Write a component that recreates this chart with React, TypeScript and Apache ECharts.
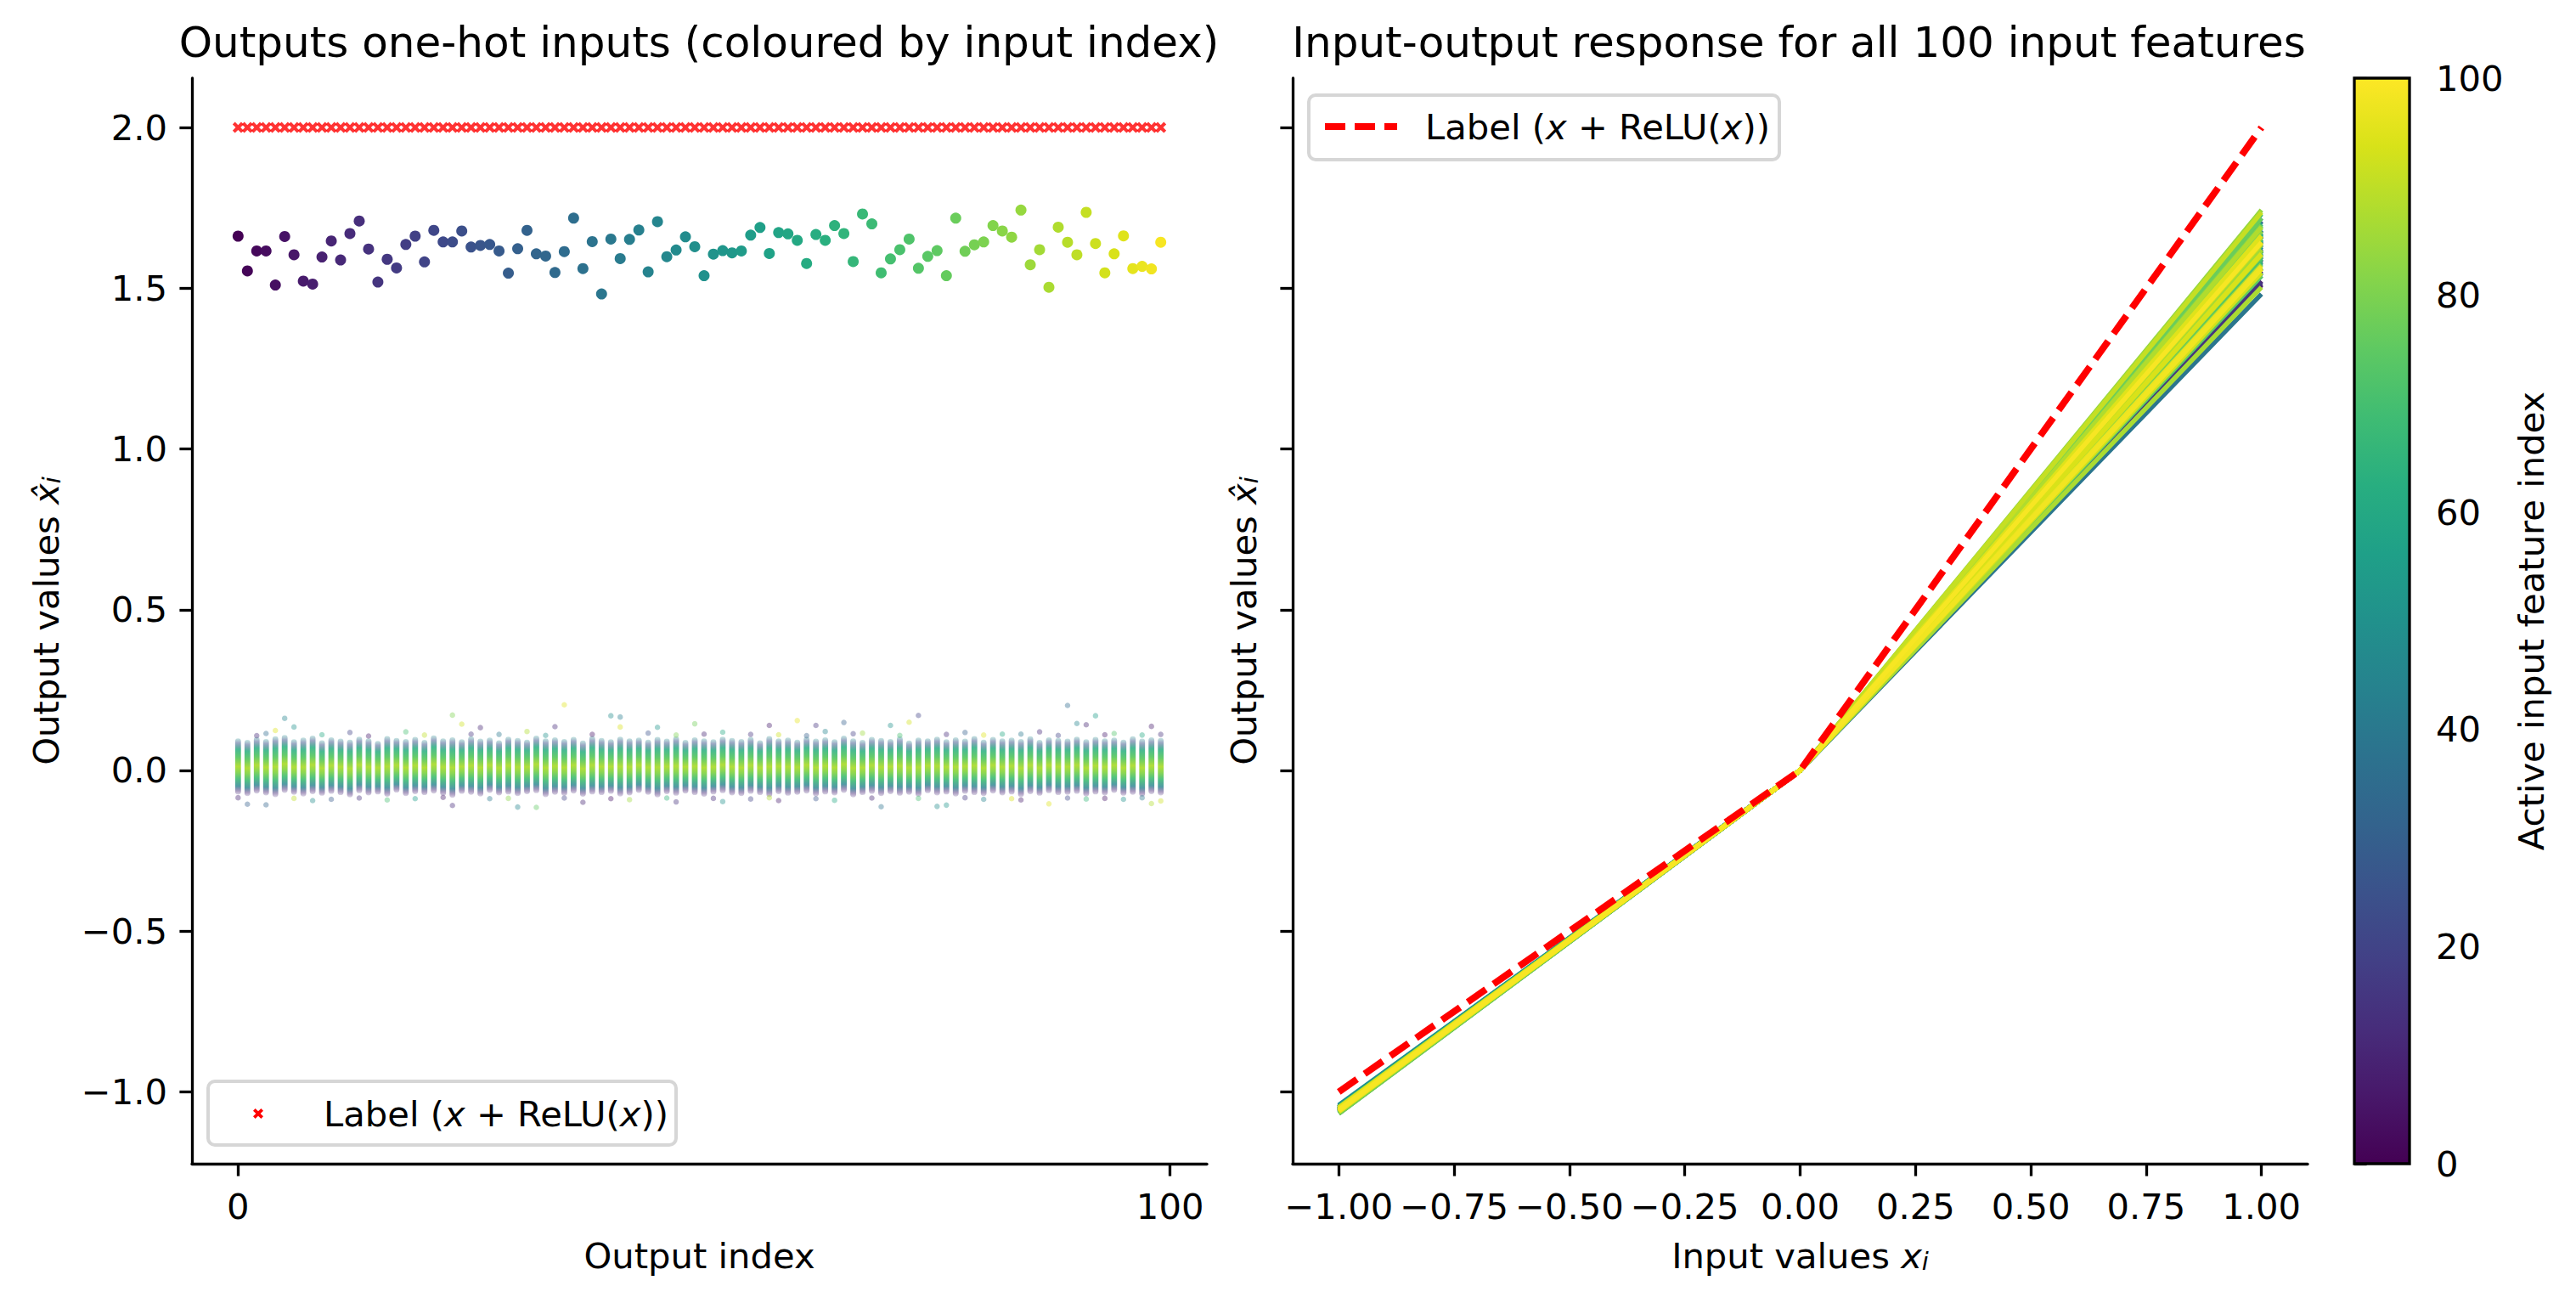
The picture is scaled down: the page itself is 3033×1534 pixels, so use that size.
import React, { useEffect, useRef } from "react";
import * as echarts from "echarts";

const W = 3033;
const H = 1534;
const FONT = "DejaVu Sans";
const FS = 41.7;
const TITLE_FS = 50;

// ---------------- data ----------------
const outputIndices = [...Array(100).keys()];

// Diagonal outputs (active feature -> its own output)
const diagValues = [
  1.662, 1.554, 1.616, 1.616, 1.510, 1.661, 1.604, 1.522, 1.513, 1.597,
  1.647, 1.588, 1.670, 1.709, 1.622, 1.519, 1.590, 1.563, 1.636, 1.662,
  1.582, 1.680, 1.644, 1.644, 1.678, 1.628, 1.633, 1.636, 1.616, 1.547,
  1.623, 1.680, 1.607, 1.600, 1.549, 1.614, 1.718, 1.561, 1.645, 1.482,
  1.653, 1.592, 1.652, 1.681, 1.551, 1.707, 1.598, 1.619, 1.660, 1.629,
  1.539, 1.606, 1.617, 1.610, 1.616, 1.665, 1.689, 1.608, 1.673, 1.669,
  1.649, 1.577, 1.667, 1.649, 1.695, 1.670, 1.583, 1.731, 1.700, 1.548,
  1.591, 1.620, 1.653, 1.562, 1.599, 1.617, 1.539, 1.718, 1.615, 1.635,
  1.644, 1.695, 1.678, 1.659, 1.743, 1.573, 1.620, 1.503, 1.690, 1.643,
  1.604, 1.736, 1.639, 1.548, 1.607, 1.663, 1.561, 1.568, 1.560, 1.643,
];

// Label value for each output index
const labelValue = 2.0;

// Off-diagonal cloud: dense core extents per output column (estimated)
const cloudHigh = [
  0.100, 0.095, 0.104, 0.098, 0.106, 0.110, 0.097, 0.102, 0.108, 0.094,
  0.103, 0.099, 0.096, 0.105, 0.100, 0.092, 0.107, 0.101, 0.098, 0.104,
  0.095, 0.109, 0.100, 0.103, 0.097, 0.106, 0.099, 0.102, 0.094, 0.105,
  0.101, 0.096, 0.108, 0.100, 0.103, 0.098, 0.104, 0.093, 0.107, 0.101,
  0.097, 0.105, 0.100, 0.102, 0.096, 0.104, 0.099, 0.106, 0.095, 0.103,
  0.100, 0.097, 0.105, 0.101, 0.098, 0.104, 0.094, 0.107, 0.100, 0.102,
  0.096, 0.105, 0.099, 0.103, 0.097, 0.108, 0.100, 0.095, 0.104, 0.101,
  0.098, 0.106, 0.093, 0.102, 0.100, 0.105, 0.097, 0.103, 0.099, 0.107,
  0.096, 0.104, 0.100, 0.102, 0.098, 0.106, 0.095, 0.103, 0.101, 0.099,
  0.105, 0.097, 0.104, 0.100, 0.102, 0.096, 0.106, 0.099, 0.103, 0.101,
];
const cloudLow = [
  -0.075, -0.080, -0.072, -0.078, -0.083, -0.070, -0.076, -0.081, -0.074, -0.079,
  -0.073, -0.077, -0.084, -0.071, -0.078, -0.075, -0.082, -0.069, -0.080, -0.074,
  -0.077, -0.072, -0.079, -0.085, -0.073, -0.076, -0.081, -0.070, -0.078, -0.075,
  -0.080, -0.074, -0.071, -0.083, -0.076, -0.079, -0.072, -0.082, -0.075, -0.077,
  -0.073, -0.081, -0.078, -0.070, -0.076, -0.084, -0.074, -0.079, -0.072, -0.077,
  -0.082, -0.075, -0.071, -0.078, -0.080, -0.073, -0.077, -0.083, -0.074, -0.079,
  -0.076, -0.072, -0.081, -0.075, -0.078, -0.070, -0.084, -0.077, -0.073, -0.080,
  -0.074, -0.079, -0.076, -0.082, -0.071, -0.078, -0.075, -0.081, -0.073, -0.077,
  -0.080, -0.072, -0.078, -0.075, -0.083, -0.074, -0.079, -0.071, -0.077, -0.076,
  -0.073, -0.081, -0.075, -0.078, -0.070, -0.079, -0.076, -0.082, -0.074, -0.078,
];

// Scattered off-diagonal points outside / at the edge of the core: [output index, value, input index]
const cloudOutliers = [
  [5, 0.162, 45], [6, 0.135, 50], [4, 0.124, 95], [3, 0.115, 35], [23, 0.172, 80],
  [24, 0.144, 92], [26, 0.133, 10], [35, 0.204, 95], [34, 0.136, 12], [40, 0.170, 48],
  [41, 0.166, 42], [41, 0.135, 94], [45, 0.134, 52], [49, 0.145, 78], [57, 0.140, 8],
  [60, 0.155, 96], [62, 0.140, 15], [65, 0.149, 30], [70, 0.140, 50], [72, 0.150, 93],
  [73, 0.171, 20], [89, 0.202, 35], [92, 0.170, 55], [91, 0.142, 10], [90, 0.146, 45],
  [98, 0.137, 8], [12, 0.118, 20], [18, 0.120, 70], [28, 0.112, 40], [31, 0.121, 88],
  [44, 0.116, 25], [52, 0.119, 60], [55, 0.112, 15], [63, 0.121, 45], [67, 0.116, 85],
  [78, 0.118, 30], [82, 0.113, 60], [86, 0.120, 12], [94, 0.115, 72],
  [1, -0.105, 30], [3, -0.107, 32], [8, -0.094, 48], [23, -0.109, 12], [30, -0.114, 45],
  [32, -0.115, 75], [37, -0.099, 10], [47, -0.098, 14], [52, -0.097, 50], [58, -0.094, 8],
  [69, -0.113, 38], [75, -0.112, 48], [76, -0.108, 52], [87, -0.104, 95], [98, -0.103, 88],
  [95, -0.090, 50], [10, -0.090, 28], [16, -0.092, 70], [27, -0.088, 40], [42, -0.091, 85],
  [55, -0.089, 20], [64, -0.093, 60], [80, -0.090, 44], [84, -0.092, 8], [91, -0.089, 66],
  [2, 0.108, 12], [9, 0.111, 60], [14, 0.107, 8], [20, 0.110, 90], [25, 0.113, 15],
  [33, 0.109, 50], [38, 0.112, 6], [47, 0.110, 80], [50, 0.113, 10], [58, 0.111, 92],
  [61, 0.108, 30], [66, 0.114, 18], [71, 0.109, 70], [76, 0.112, 12], [80, 0.110, 95],
  [84, 0.113, 40], [88, 0.109, 20], [93, 0.111, 8], [97, 0.110, 60], [99, 0.112, 14],
  [0, -0.085, 10], [6, -0.087, 90], [13, -0.086, 14], [19, -0.088, 55], [22, -0.084, 8],
  [29, -0.087, 82], [35, -0.086, 20], [40, -0.088, 6], [46, -0.086, 65], [51, -0.087, 12],
  [57, -0.085, 88], [62, -0.088, 26], [68, -0.086, 10], [73, -0.087, 70], [78, -0.085, 16],
  [83, -0.088, 94], [89, -0.086, 22], [93, -0.087, 6], [97, -0.085, 40], [99, -0.095, 92],
];

// Right panel: response at x = -1, 0, 1 for each active input feature
const inputValues = [-1, 0, 1];
const responseAtMinusOne = [
  -1.052, -1.058, -1.049, -1.061, -1.055, -1.047, -1.063, -1.051, -1.057, -1.044,
  -1.060, -1.053, -1.048, -1.066, -1.054, -1.059, -1.050, -1.062, -1.046, -1.056,
  -1.053, -1.064, -1.049, -1.058, -1.052, -1.061, -1.045, -1.057, -1.055, -1.067,
  -1.050, -1.054, -1.060, -1.048, -1.063, -1.056, -1.043, -1.059, -1.052, -1.065,
  -1.051, -1.057, -1.062, -1.049, -1.055, -1.060, -1.047, -1.058, -1.053, -1.064,
  -1.041, -1.056, -1.061, -1.050, -1.054, -1.059, -1.048, -1.063, -1.052, -1.057,
  -1.055, -1.049, -1.066, -1.053, -1.058, -1.051, -1.062, -1.056, -1.047, -1.060,
  -1.054, -1.050, -1.065, -1.057, -1.052, -1.059, -1.048, -1.061, -1.055, -1.068,
  -1.053, -1.058, -1.050, -1.063, -1.056, -1.051, -1.060, -1.054, -1.049, -1.062,
  -1.057, -1.052, -1.059, -1.055, -1.061, -1.050, -1.058, -1.054, -1.060, -1.056,
];
const responseAtZero = 0.0;
const responseAtOne = diagValues;

const labelLineX = [-1, 0, 1];
const labelLineY = [-1, 0, 2];

// Axes
const leftXRange = [-4.95, 103.95];
const leftXTicks = [0, 100];
const yRange = [-1.2235, 2.1535];
const yTicks = [-1.0, -0.5, 0.0, 0.5, 1.0, 1.5, 2.0];
const rightXRange = [-1.1, 1.1];
const rightXTicks = [-1.0, -0.75, -0.5, -0.25, 0.0, 0.25, 0.5, 0.75, 1.0];
const colorbarRange = [0, 100];
const colorbarTicks = [0, 20, 40, 60, 80, 100];

// ---------------- styles ----------------
const VIRIDIS = [
  "#440154", "#48186a", "#472d7b", "#424086", "#3b528b", "#33638d",
  "#2c728e", "#26828e", "#21918c", "#1fa088", "#28ae80", "#3fbc73",
  "#5ec962", "#84d44b", "#addc30", "#d8e219", "#fde725",
];

function hexToRgb(h: string) {
  const n = parseInt(h.slice(1), 16);
  return [(n >> 16) & 255, (n >> 8) & 255, n & 255];
}
const VIRIDIS_RGB = VIRIDIS.map(hexToRgb);

function viridis(t: number, alpha = 1) {
  const tt = Math.max(0, Math.min(1, t));
  const pos = tt * (VIRIDIS_RGB.length - 1);
  const i = Math.min(Math.floor(pos), VIRIDIS_RGB.length - 2);
  const f = pos - i;
  const a = VIRIDIS_RGB[i];
  const b = VIRIDIS_RGB[i + 1];
  const c = [0, 1, 2].map((k) => Math.round(a[k] + (b[k] - a[k]) * f));
  return `rgba(${c[0]},${c[1]},${c[2]},${alpha})`;
}

const fmtMinus = (v: number, d: number) =>
  (v < -1e-9 ? "\u2212" : "") + Math.abs(v).toFixed(d);

const LW = 3.3;
const TICK_LEN = 14.6;

const mathRich = {
  n: { fontFamily: FONT, fontSize: FS, color: "#000" },
  i: { fontFamily: FONT, fontSize: FS, fontStyle: "italic", color: "#000" },
  s: {
    fontFamily: FONT,
    fontSize: 29,
    fontStyle: "italic",
    color: "#000",
    verticalAlign: "bottom",
    lineHeight: 22,
  },
};

function baseAxis(extra: any) {
  return {
    axisLine: { show: true, onZero: false, lineStyle: { color: "#000", width: LW } },
    axisTick: { show: true, inside: false, length: TICK_LEN, lineStyle: { color: "#000", width: LW } },
    axisLabel: { show: true, color: "#000", fontFamily: FONT, fontSize: FS, margin: 29 },
    splitLine: { show: false },
    nameTextStyle: { color: "#000", fontFamily: FONT, fontSize: FS, rich: mathRich },
    ...extra,
  };
}

function xMarkPoints(cx: number, cy: number, s: number) {
  const p = [
    [0, 2.2], [2.2, 0], [5, 2.8], [7.8, 0], [10, 2.2], [7.2, 5],
    [10, 7.8], [7.8, 10], [5, 7.2], [2.2, 10], [0, 7.8], [2.8, 5],
  ];
  return p.map(([x, y]) => [cx + ((x - 5) / 10) * s, cy + ((y - 5) / 10) * s]);
}

const X_SYMBOL = "path://M0,2.2L2.2,0L5,2.8L7.8,0L10,2.2L7.2,5L10,7.8L7.8,10L5,7.2L2.2,10L0,7.8L2.8,5Z";

const legendText = "{n|Label (}{i|x}{n| + ReLU(}{i|x}{n|))}";

export default function App() {
  const ref = useRef<HTMLDivElement>(null);

  useEffect(() => {
    if (!ref.current) return;
    const chart = echarts.init(ref.current, null, { renderer: "svg", width: W, height: H });

    const cloudGradient = new echarts.graphic.LinearGradient(0, 0, 0, 1, [
      { offset: 0, color: "rgba(33,145,140,0.25)" },
      { offset: 0.08, color: "rgba(59,82,139,0.5)" },
      { offset: 0.2, color: "rgba(40,174,128,0.85)" },
      { offset: 0.35, color: "rgba(94,201,98,0.95)" },
      { offset: 0.5, color: "rgba(173,220,48,0.95)" },
      { offset: 0.6, color: "rgba(132,212,75,0.95)" },
      { offset: 0.72, color: "rgba(63,188,115,0.9)" },
      { offset: 0.85, color: "rgba(38,130,142,0.8)" },
      { offset: 0.94, color: "rgba(72,40,120,0.45)" },
      { offset: 1, color: "rgba(72,40,120,0.2)" },
    ]);

    const colorbarGradient = new echarts.graphic.LinearGradient(
      0, 0, 0, 1,
      VIRIDIS.map((c, k) => ({ offset: 1 - k / (VIRIDIS.length - 1), color: c })).reverse()
    );

    const lineSeries = outputIndices.map((i) => ({
      type: "line",
      xAxisIndex: 1,
      yAxisIndex: 1,
      data: inputValues.map((x, k) => [
        x,
        k === 0 ? responseAtMinusOne[i] : k === 1 ? responseAtZero : responseAtOne[i],
      ]),
      symbol: "none",
      silent: true,
      lineStyle: { color: viridis(i / 100), width: 5.5 },
      z: 2,
    }));

    const option: any = {
      animation: false,
      backgroundColor: "#ffffff",
      grid: [
        { left: 226, top: 92, width: 1195, height: 1278 },
        { left: 1522, top: 92, width: 1195, height: 1278 },
        { left: 2772, top: 92, width: 65, height: 1278 },
      ],
      xAxis: [
        baseAxis({
          type: "value",
          gridIndex: 0,
          min: leftXRange[0],
          max: leftXRange[1],
          axisTick: { show: true, length: TICK_LEN, customValues: leftXTicks, lineStyle: { color: "#000", width: LW } },
          axisLabel: {
            show: true, color: "#000", fontFamily: FONT, fontSize: FS, margin: 29,
            customValues: leftXTicks,
            formatter: (v: number) => String(Math.round(v)),
          },
          name: "Output index",
          nameLocation: "middle",
          nameGap: 87,
        }),
        baseAxis({
          type: "value",
          gridIndex: 1,
          min: rightXRange[0],
          max: rightXRange[1],
          axisTick: { show: true, length: TICK_LEN, customValues: rightXTicks, lineStyle: { color: "#000", width: LW } },
          axisLabel: {
            show: true, color: "#000", fontFamily: FONT, fontSize: FS, margin: 29,
            customValues: rightXTicks,
            formatter: (v: number) => fmtMinus(v, 2),
          },
          name: "{n|Input values }{i|x}{s|i}",
          nameLocation: "middle",
          nameGap: 87,
        }),
        { type: "value", gridIndex: 2, min: 0, max: 1, show: false },
      ],
      yAxis: [
        baseAxis({
          type: "value",
          gridIndex: 0,
          min: yRange[0],
          max: yRange[1],
          axisTick: { show: true, length: TICK_LEN, customValues: yTicks, lineStyle: { color: "#000", width: LW } },
          axisLabel: {
            show: true, color: "#000", fontFamily: FONT, fontSize: FS, margin: 29,
            customValues: yTicks,
            formatter: (v: number) => fmtMinus(v, 1),
          },
          name: "{n|Output values }{i|x\u0302}{s|i}",
          nameLocation: "middle",
          nameRotate: 90,
          nameGap: 151,
        }),
        baseAxis({
          type: "value",
          gridIndex: 1,
          min: yRange[0],
          max: yRange[1],
          axisTick: { show: true, length: TICK_LEN, customValues: yTicks, lineStyle: { color: "#000", width: LW } },
          axisLabel: { show: false, customValues: yTicks },
          name: "{n|Output values }{i|x\u0302}{s|i}",
          nameLocation: "middle",
          nameRotate: 90,
          nameGap: 37,
        }),
        baseAxis({
          type: "value",
          gridIndex: 2,
          position: "right",
          min: colorbarRange[0],
          max: colorbarRange[1],
          interval: 20,
          axisLine: { show: false },
          axisTick: { show: true, length: TICK_LEN, customValues: colorbarTicks, lineStyle: { color: "#000", width: LW } },
          axisLabel: {
            show: true, color: "#000", fontFamily: FONT, fontSize: FS, margin: 31,
            customValues: colorbarTicks,
          },
          name: "Active input feature index",
          nameLocation: "middle",
          nameRotate: 90,
          nameGap: 122,
        }),
      ],
      series: [
        {
          type: "custom",
          name: "offdiag-core",
          xAxisIndex: 0,
          yAxisIndex: 0,
          silent: true,
          data: outputIndices.map((j) => [j, cloudLow[j], cloudHigh[j]]),
          encode: { x: 0, y: [1, 2] },
          renderItem: (params: any, api: any) => {
            const j = api.value(0);
            const top = api.coord([j, api.value(2)]);
            const bot = api.coord([j, api.value(1)]);
            const w = 6.8;
            return {
              type: "rect",
              shape: { x: top[0] - w / 2, y: top[1], width: w, height: bot[1] - top[1], r: w / 2 },
              style: { fill: cloudGradient },
            };
          },
          z: 1,
        },
        {
          type: "scatter",
          name: "offdiag-outliers",
          xAxisIndex: 0,
          yAxisIndex: 0,
          silent: true,
          symbolSize: 6.5,
          data: cloudOutliers,
          itemStyle: { color: (p: any) => viridis(p.data[2] / 100), opacity: 0.4 },
          z: 1,
        },
        {
          type: "scatter",
          name: "diagonal",
          xAxisIndex: 0,
          yAxisIndex: 0,
          silent: true,
          symbolSize: 13,
          data: outputIndices.map((j) => [j, diagValues[j]]),
          itemStyle: { color: (p: any) => viridis(p.data[0] / 100), opacity: 1 },
          z: 2,
        },
        {
          type: "scatter",
          name: "label-scatter",
          xAxisIndex: 0,
          yAxisIndex: 0,
          silent: true,
          symbol: X_SYMBOL,
          symbolSize: 13,
          data: outputIndices.map((j) => [j, labelValue]),
          itemStyle: { color: "#ff0000" },
          z: 3,
        },
        ...lineSeries,
        {
          type: "line",
          name: "label-line",
          xAxisIndex: 1,
          yAxisIndex: 1,
          silent: true,
          symbol: "none",
          data: labelLineX.map((x, k) => [x, labelLineY[k]]),
          lineStyle: { color: "#ff0000", width: 8, type: [26, 11] },
          z: 3,
        },
        {
          type: "custom",
          name: "colorbar",
          xAxisIndex: 2,
          yAxisIndex: 2,
          silent: true,
          data: [[0, colorbarRange[0], 1, colorbarRange[1]]],
          renderItem: (params: any, api: any) => {
            const p0 = api.coord([api.value(0), api.value(1)]);
            const p1 = api.coord([api.value(2), api.value(3)]);
            return {
              type: "rect",
              shape: { x: p0[0], y: p1[1], width: p1[0] - p0[0], height: p0[1] - p1[1] },
              style: { fill: colorbarGradient, stroke: "#000", lineWidth: LW },
            };
          },
        },
      ],
      graphic: [
        {
          type: "text",
          x: 823,
          y: 50,
          style: {
            text: "Outputs one-hot inputs (coloured by input index)",
            fontFamily: FONT, fontSize: TITLE_FS, fill: "#000",
            align: "center", verticalAlign: "middle",
          },
        },
        {
          type: "text",
          x: 2118,
          y: 50,
          style: {
            text: "Input-output response for all 100 input features",
            fontFamily: FONT, fontSize: TITLE_FS, fill: "#000",
            align: "center", verticalAlign: "middle",
          },
        },
        // left legend
        {
          type: "rect",
          shape: { x: 245, y: 1273, width: 551, height: 75, r: 8 },
          style: { fill: "rgba(255,255,255,0.8)", stroke: "#d6d6d6", lineWidth: 4 },
          z: 10,
        },
        {
          type: "polygon",
          shape: { points: xMarkPoints(304, 1311, 12) },
          style: { fill: "#ff0000" },
          z: 11,
        },
        {
          type: "text",
          x: 381,
          y: 1311,
          style: {
            text: legendText, rich: mathRich,
            fontFamily: FONT, fontSize: FS, fill: "#000",
            align: "left", verticalAlign: "middle",
          },
          z: 11,
        },
        // right legend
        {
          type: "rect",
          shape: { x: 1541, y: 112, width: 554, height: 76, r: 8 },
          style: { fill: "rgba(255,255,255,0.8)", stroke: "#d6d6d6", lineWidth: 4 },
          z: 10,
        },
        {
          type: "line",
          shape: { x1: 1560, y1: 149, x2: 1645, y2: 149 },
          style: { stroke: "#ff0000", lineWidth: 8, lineDash: [24, 11] },
          z: 11,
        },
        {
          type: "text",
          x: 1678,
          y: 149,
          style: {
            text: legendText, rich: mathRich,
            fontFamily: FONT, fontSize: FS, fill: "#000",
            align: "left", verticalAlign: "middle",
          },
          z: 11,
        },
      ],
    };

    chart.setOption(option);
    return () => chart.dispose();
  }, []);

  return (
    <div
      ref={ref}
      style={{ position: "absolute", left: 0, top: 0, width: W, height: H, background: "#fff" }}
    />
  );
}
